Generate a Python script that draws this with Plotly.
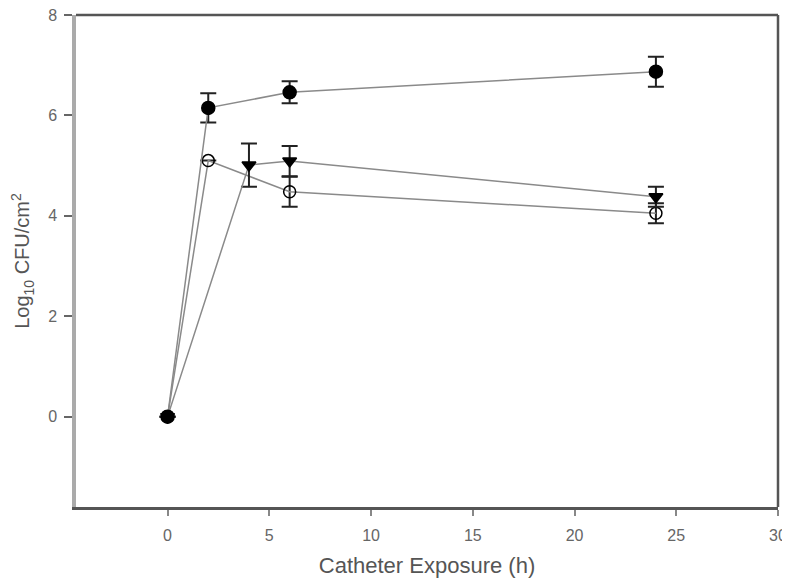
import plotly.graph_objects as go

# Data
hours_a = [0, 2, 6, 24]
logcfu_a = [0, 6.15, 6.46, 6.87]
err_a = [0, 0.29, 0.22, 0.3]

hours_b = [0, 2, 6, 24]
logcfu_b = [0, 5.1, 4.48, 4.05]
err_b = [0, 0.0, 0.3, 0.2]

hours_c = [0, 4, 6, 24]
logcfu_c = [0, 5.01, 5.09, 4.38]
err_c = [0, 0.43, 0.3, 0.2]

x_ticks = [0, 5, 10, 15, 20, 25, 30]
y_ticks = [0, 2, 4, 6, 8]

LINE = "#8a8a8a"
fig = go.Figure()

def add_series(x, y, e, symbol, size):
    fig.add_trace(go.Scatter(
        x=x, y=y, mode="lines+markers",
        line=dict(color=LINE, width=1.5),
        marker=dict(symbol=symbol, size=size, color="black",
                    line=dict(color="black", width=1.5)),
        error_y=dict(type="data", array=e, visible=True, color="#222",
                     thickness=2, width=8),
        showlegend=False,
    ))

add_series(hours_b, logcfu_b, err_b, "circle-open", 12)
add_series(hours_c, logcfu_c, err_c, "triangle-down", 12)
add_series(hours_a, logcfu_a, err_a, "circle", 13)

# page body has an 8px margin, so margins are shifted to compensate
fig.update_layout(
    width=790, height=583,
    margin=dict(l=68, r=20, t=7, b=84),
    paper_bgcolor="white", plot_bgcolor="white",
    font=dict(family="Liberation Sans, Arial, sans-serif", color="#555"),
    shapes=[
        dict(type="line", xref="x domain", yref="y domain", x0=1, x1=1, y0=0, y1=1,
             line=dict(color="#555", width=2.5)),
        dict(type="line", xref="x domain", yref="y domain", x0=0, x1=1, y0=1, y1=1,
             line=dict(color="#555", width=2.5)),
    ],
)
fig.update_xaxes(
    range=[-4.5, 30], tickvals=x_ticks, showgrid=False, zeroline=False,
    showline=True, linecolor="#555", linewidth=2.5, automargin=False,
    ticks="outside", ticklen=6, tickwidth=1.5, tickcolor="#888",
    ticklabelstandoff=6, ticklabeloverflow="allow",
    tickfont=dict(size=16, color="#666"),
    title=dict(text="Catheter Exposure (h)", font=dict(size=22, color="#555"), standoff=15),
)
fig.update_yaxes(
    range=[-1.8, 8], tickvals=y_ticks, showgrid=False, zeroline=False,
    showline=True, linecolor="#aaa", linewidth=3.5, automargin=False,
    ticks="outside", ticklen=8, tickwidth=1.5, tickcolor="#666",
    ticklabelstandoff=4, ticklabeloverflow="allow",
    tickfont=dict(size=16, color="#666"),
    title=dict(text="Log<sub>10</sub> CFU/cm<sup>2</sup>", font=dict(size=20, color="#555"), standoff=14),
)

fig.write_html("out.html")
